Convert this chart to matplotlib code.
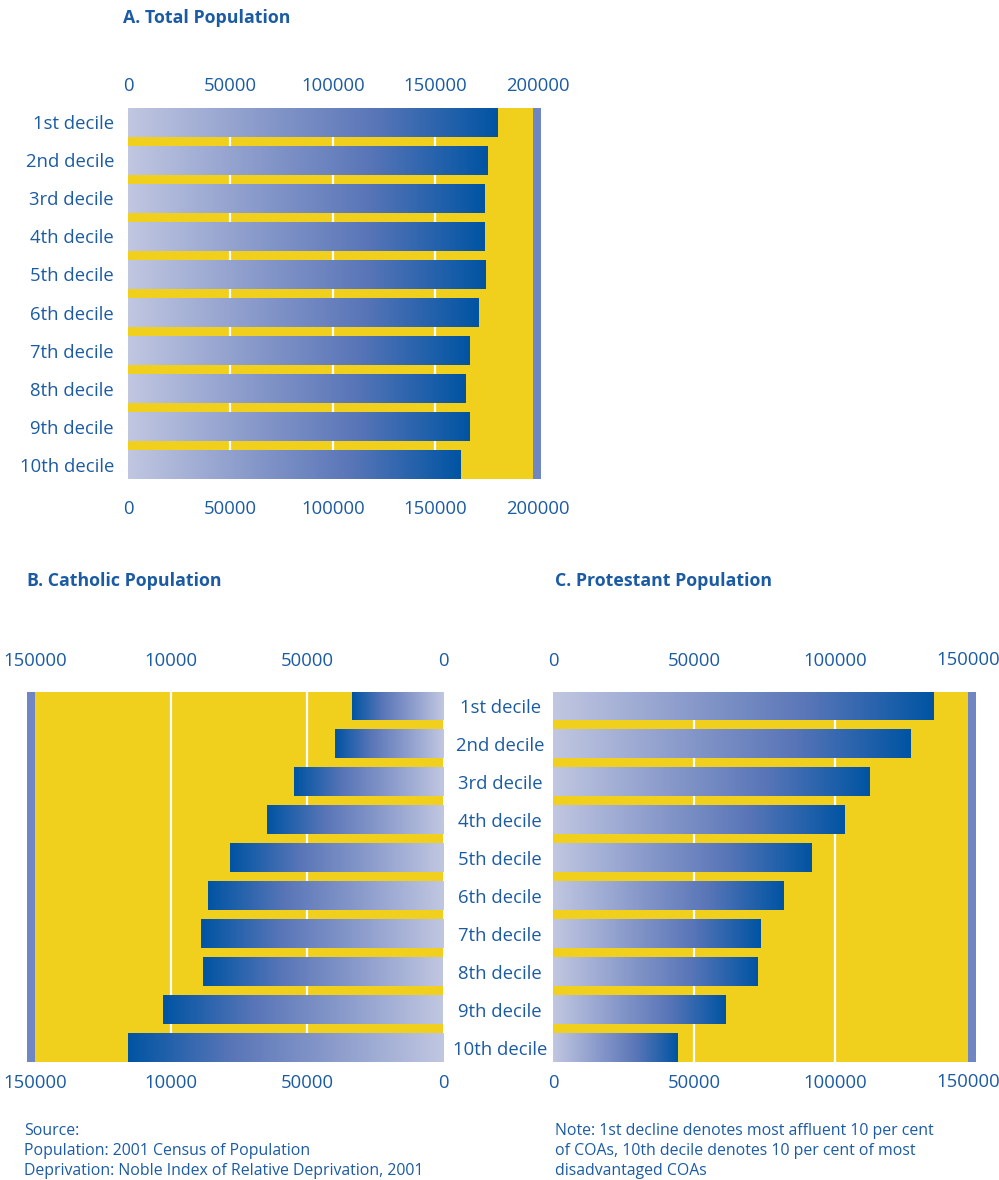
import numpy as np
import matplotlib
matplotlib.use("Agg")
import matplotlib.pyplot as plt
import matplotlib.transforms as mtransforms
from matplotlib.colors import LinearSegmentedColormap

# population by deprivation decile (1st = most affluent)
deciles = ["1st decile", "2nd decile", "3rd decile", "4th decile", "5th decile",
           "6th decile", "7th decile", "8th decile", "9th decile", "10th decile"]
total_pop = [180500, 175600, 173700, 173700, 174600, 171200, 166800, 164900, 166800, 162400]
catholic_pop = [33500, 39700, 54800, 64700, 78300, 86400, 89000, 88200, 102900, 115800]
protestant_pop = [135000, 126900, 112400, 103500, 91500, 81600, 73500, 72400, 61100, 44200]

ticks_a = [0, 50000, 100000, 150000, 200000]
tick_labels_a = ["0", "50000", "100000", "150000", "200000"]
ticks_b = [150000, 100000, 50000, 0]
tick_labels_b = ["150000", "10000", "50000", "0"]
ticks_c = [0, 50000, 100000, 150000]
tick_labels_c = ["0", "50000", "100000", "150000"]

W, H = 999, 1180
TXT = "#1b5ba4"
YELLOW = "#f1cf1d"
WALL = "#6f86c2"
FS = 13.3
bar_cmap = LinearSegmentedColormap.from_list(
    "bars", ["#c1c7e1", "#8d9dcc", "#5a76b8", "#0054a3"])

plt.rcParams["font.family"] = ["Open Sans", "DejaVu Sans"]
fig = plt.figure(figsize=(W / 100, H / 100), dpi=100)
fig.patch.set_facecolor("white")


def axes_px(left, top, right, bottom):
    return fig.add_axes([left / W, 1 - bottom / H, (right - left) / W, (bottom - top) / H])


def panel(ax, values, floor_end, wall_end, grid, reverse=False):
    ax.axvspan(0, floor_end, color=YELLOW, lw=0, zorder=0)
    ax.axvspan(floor_end, wall_end, color=WALL, lw=0, zorder=0)
    for g in grid:
        ax.axvline(g, color="white", lw=1.6, zorder=1)
    grad = np.linspace(0, 1, 256).reshape(1, -1)
    for i, v in enumerate(values):
        ax.imshow(grad, cmap=bar_cmap, aspect="auto", interpolation="bilinear",
                  extent=[0, v, i + 0.375, i - 0.375], zorder=2)
    ax.set_xlim(0, wall_end)
    ax.set_ylim(9.375, -0.375)
    if reverse:
        ax.invert_xaxis()
    for s in ax.spines.values():
        s.set_visible(False)
    ax.tick_params(length=0, labelcolor=TXT, labelsize=FS)


def xlabels(ax, ticks, labels, top_pad, bottom_pad):
    ax.set_xticks(ticks, labels)
    ax.tick_params(axis="x", pad=bottom_pad)
    sec = ax.secondary_xaxis("top")
    sec.set_xticks(ticks, labels)
    sec.tick_params(length=0, labelcolor=TXT, labelsize=FS, pad=top_pad)
    sec.spines["top"].set_visible(False)
    return sec


# A. total population
ax_a = axes_px(128, 108, 541, 479)
panel(ax_a, total_pop, 197600, 201500, [50000, 100000, 150000])
xlabels(ax_a, ticks_a, tick_labels_a, 9, 15)
ax_a.set_yticks(range(10), deciles)
ax_a.tick_params(axis="y", pad=10)

# B. catholic population (mirrored)
ax_b = axes_px(27, 692, 443, 1062)
panel(ax_b, catholic_pop, 150000, 152900, [50000, 100000], reverse=True)
xlabels(ax_b, ticks_b, tick_labels_b, 16, 9)
ax_b.set_yticks([])

# C. protestant population; the outermost label is set by hand so it
# can sit a little left of its tick and stay on the page
ax_c = axes_px(553, 692, 976, 1062)
panel(ax_c, protestant_pop, 147200, 150000, [50000, 100000])
xlabels(ax_c, ticks_c[:-1], tick_labels_c[:-1], 16, 9)
shift = mtransforms.ScaledTranslation(-0.08, 0, fig.dpi_scale_trans)
edge = ax_c.get_xaxis_transform() + shift
for y_ax, va in [(1 + 32 / 370, "center"), (-20 / 370, "center")]:
    ax_c.text(ticks_c[-1], y_ax, tick_labels_c[-1], transform=edge, ha="center",
              va=va, color=TXT, fontsize=FS, clip_on=False)
ax_c.set_yticks(range(10), deciles)
for lab in ax_c.get_yticklabels():
    lab.set_horizontalalignment("center")
ax_c.tick_params(axis="y", pad=38)


def ftext(x, y, s, **kw):
    fig.text(x / W, 1 - y / H, s, color=TXT, va="center", ha="left", **kw)


ftext(123, 18, "A. Total Population", fontsize=12.8, fontweight="bold")
ftext(27, 581, "B. Catholic Population", fontsize=12.8, fontweight="bold")
ftext(555, 581, "C. Protestant Population", fontsize=12.8, fontweight="bold")

for k, line in enumerate(["Source:",
                          "Population: 2001 Census of Population",
                          "Deprivation: Noble Index of Relative Deprivation, 2001"]):
    ftext(24, 1131 + 20 * k, line, fontsize=11.4)
for k, line in enumerate(["Note: 1st decline denotes most affluent 10 per cent",
                          "of COAs, 10th decile denotes 10 per cent of most",
                          "disadvantaged COAs"]):
    ftext(555, 1131 + 20 * k, line, fontsize=11.4)

fig.savefig("out.png", dpi=100)
